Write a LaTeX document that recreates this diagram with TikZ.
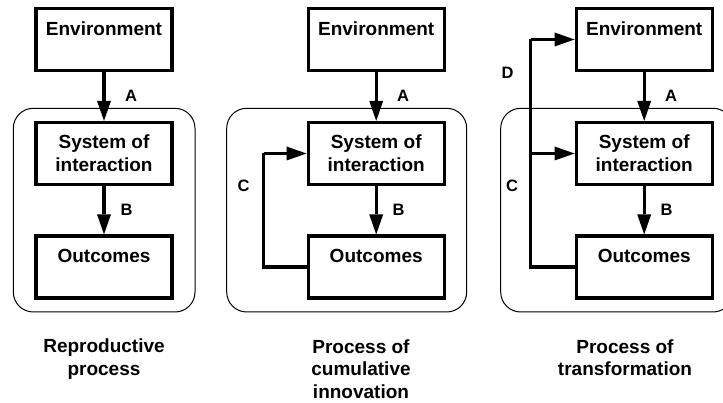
\documentclass[tikz,border=0pt]{standalone}
\usepackage{fontspec}
\setmainfont{Liberation Sans}
\usetikzlibrary{arrows.meta}
\newcommand\stagefont{\fontsize{19}{22.7}\selectfont\bfseries}
\newcommand\captionfont{\fontsize{19}{22.5}\selectfont\bfseries}
\newcommand\tagfont{\fontsize{16.5}{18}\selectfont\bfseries}
\begin{document}
\begin{tikzpicture}[x=1pt,y=-1pt,
  stage/.style={draw, line width=3.3pt, minimum width=136pt, minimum height=62pt,
    inner sep=0pt, align=center, font=\stagefont},
  flow/.style={line width=3.3pt, -{Triangle[length=20pt,width=14pt,line width=0pt]}},
  link/.style={line width=3.3pt},
  frame/.style={draw, line width=1pt, rounded corners=20pt},
  tag/.style={anchor=base, inner sep=0pt, font=\tagfont},
  caption/.style={anchor=north, inner sep=0pt, align=center, font=\captionfont}]
\useasboundingbox (0,0) rectangle (723,403);
\clip (0,0) rectangle (723,403);

% system boundaries
\draw[frame] (13.3,108.3) rectangle (195,312);
\draw[frame] (226.7,108.3) rectangle (466.7,312);
\draw[frame] (500.7,108.3) rectangle (733,312);

% reproductive process
\node[stage] (env1) at (104,39.5) {Environment\\\mbox{}};
\node[stage] (sys1) at (104,153.5) {System of\\interaction};
\node[stage] (out1) at (104,267) {Outcomes\\\mbox{}};
\draw[flow] (env1) -- (sys1);
\draw[flow] (sys1) -- (out1);
\node[tag] (a1) at (131,101.5) {A};
\node[tag] (b1) at (126.5,215.5) {B};
\node[caption] (t1) at (104,339) {Reproductive\\process};

% process of cumulative innovation
\node[stage] (env2) at (376.2,39.5) {Environment\\\mbox{}};
\node[stage] (sys2) at (376.2,153.5) {System of\\interaction};
\node[stage] (out2) at (376.2,267) {Outcomes\\\mbox{}};
\draw[flow] (env2) -- (sys2);
\draw[flow] (sys2) -- (out2);
\coordinate (k2) at (263.5,0);
\draw[link] (out2.west) -- (out2.west -| k2) -- (sys2.west -| k2);
\draw[flow] (sys2.west -| k2) -- (sys2.west);
\node[tag] (a2) at (403.2,101.5) {A};
\node[tag] (b2) at (398.7,215.5) {B};
\node[tag] (c2) at (243.7,191.7) {C};
\node[caption] (t2) at (361,339.5) {Process of\\cumulative\\innovation};

% process of transformation
\node[stage] (env3) at (644.2,39.5) {Environment\\\mbox{}};
\node[stage] (sys3) at (644.2,153.5) {System of\\interaction};
\node[stage] (out3) at (644.2,267) {Outcomes\\\mbox{}};
\draw[flow] (env3) -- (sys3);
\draw[flow] (sys3) -- (out3);
\coordinate (k3) at (530.7,0);
\draw[link] (out3.west) -- (out3.west -| k3) -- (env3.west -| k3);
\draw[flow] (env3.west -| k3) -- (env3.west);
\draw[flow] (sys3.west -| k3) -- (sys3.west);
\node[tag] (a3) at (671.2,101.5) {A};
\node[tag] (b3) at (666.7,215.5) {B};
\node[tag] (c3) at (512,191.7) {C};
\node[tag] (d3) at (507.5,78.3) {D};
\node[caption] (t3) at (625,339.5) {Process of\\transformation};
\end{tikzpicture}
\end{document}
